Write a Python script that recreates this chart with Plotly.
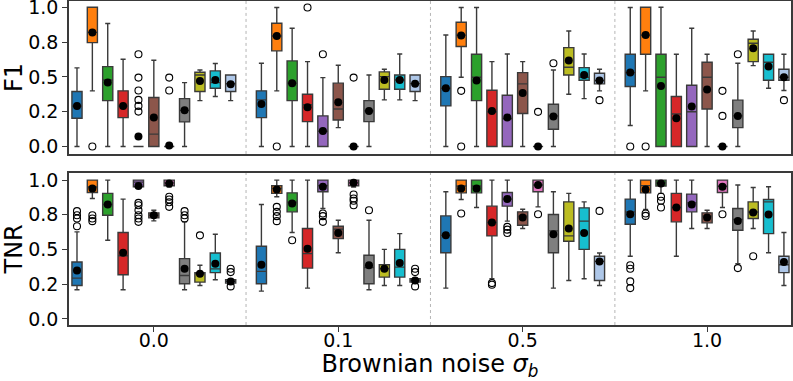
import plotly.graph_objects as go

# ---- categories
noise_levels = ["0.0", "0.1", "0.5", "1.0"]
box_colors = ["#1f77b4", "#ff7f0e", "#2ca02c", "#d62728", "#9467bd", "#8c564b",
              "#e377c2", "#7f7f7f", "#bcbd22", "#17becf", "#aec7e8"]

# ---- F1 stats, one row per noise level, one value per method
f1_q1 = [
    [0.203, 0.746, 0.330, 0.208, 0.0, 0.0, 0.0, 0.177, 0.395, 0.419, 0.395],
    [0.208, 0.687, 0.330, 0.179, 0.0, 0.191, 0.0, 0.179, 0.411, 0.411, 0.395],
    [0.292, 0.718, 0.330, 0.0, 0.0, 0.237, 0.0, 0.124, 0.514, 0.476, 0.450],
    [0.431, 0.663, 0.0, 0.0, 0.0, 0.270, 0.0, 0.136, 0.610, 0.476, 0.476],
]
f1_med = [
    [0.290, 0.820, 0.478, 0.290, 0.0, 0.089, 0.0, 0.260, 0.514, 0.459, 0.452],
    [0.335, 0.794, 0.455, 0.300, 0.110, 0.270, 0.0, 0.256, 0.502, 0.478, 0.452],
    [0.419, 0.800, 0.498, 0.250, 0.200, 0.450, 0.0, 0.220, 0.569, 0.498, 0.474],
    [0.531, 0.800, 0.498, 0.234, 0.250, 0.498, 0.0, 0.220, 0.742, 0.605, 0.498],
]
f1_q3 = [
    [0.395, 1.0, 0.574, 0.400, 0.0, 0.352, 0.0, 0.344, 0.533, 0.543, 0.514],
    [0.400, 0.885, 0.615, 0.376, 0.220, 0.455, 0.0, 0.330, 0.536, 0.514, 0.514],
    [0.502, 0.892, 0.663, 0.404, 0.368, 0.531, 0.0, 0.304, 0.710, 0.567, 0.526],
    [0.663, 1.0, 0.663, 0.359, 0.440, 0.605, 0.0, 0.333, 0.770, 0.663, 0.555],
]
f1_lo = [
    [0.0, 0.400, 0.0, 0.0, 0.0, 0.0, 0.0, 0.0, 0.330, 0.359, 0.330],
    [0.0, 0.400, 0.0, 0.0, 0.0, 0.136, 0.0, 0.0, 0.335, 0.335, 0.330],
    [0.0, 0.498, 0.0, 0.0, 0.0, 0.0, 0.0, 0.0, 0.376, 0.344, 0.400],
    [0.151, 0.400, 0.0, 0.0, 0.0, 0.0, 0.0, 0.0, 0.581, 0.419, 0.402],
]
f1_hi = [
    [0.565, 1.0, 0.883, 0.627, 0.0, 0.620, 0.0, 0.459, 0.550, 0.596, 0.514],
    [0.598, 0.998, 0.849, 0.610, 0.495, 0.584, 0.0, 0.514, 0.555, 0.665, 0.514],
    [0.801, 0.998, 0.998, 0.610, 0.665, 0.610, 0.0, 0.550, 0.830, 0.665, 0.555],
    [0.998, 1.0, 1.0, 0.663, 0.849, 0.663, 0.0, 0.598, 0.830, 0.663, 0.663],
]
f1_mean = [
    [0.292, 0.818, 0.459, 0.292, 0.072, 0.208, 0.007, 0.260, 0.471, 0.478, 0.447],
    [0.306, 0.794, 0.455, 0.282, 0.112, 0.318, 0.0, 0.256, 0.478, 0.478, 0.450],
    [0.419, 0.797, 0.474, 0.256, 0.208, 0.385, 0.0, 0.215, 0.617, 0.514, 0.474],
    [0.531, 0.801, 0.435, 0.203, 0.287, 0.409, 0.0, 0.220, 0.706, 0.574, 0.498],
]
# (noise level, method, outlier values)
f1_outliers = [
    (0, 1, [0.0]), (0, 4, [0.663, 0.495, 0.402, 0.335, 0.292, 0.251]), (0, 6, [0.495, 0.402]),
    (1, 1, [0.0]), (1, 3, [0.998]), (1, 4, [0.663]), (1, 6, [0.495]),
    (2, 1, [0.400, 0.0]), (2, 6, [0.249]), (2, 7, [0.598]), (2, 10, [0.333]),
    (3, 0, [0.0]), (3, 1, [0.0]), (3, 6, [0.400, 0.220]), (3, 7, [0.663]), (3, 10, [0.333]),
]

# ---- TNR stats
tnr_q1 = [
    [0.241, 0.911, 0.747, 0.318, 0.952, 0.728, 0.959, 0.253, 0.265, 0.333, 0.258],
    [0.253, 0.904, 0.771, 0.366, 0.916, 0.578, 0.959, 0.253, 0.301, 0.301, 0.265],
    [0.477, 0.908, 0.908, 0.598, 0.812, 0.675, 0.916, 0.477, 0.559, 0.501, 0.277],
    [0.682, 0.908, 0.957, 0.699, 0.771, 0.692, 0.911, 0.639, 0.723, 0.614, 0.333],
]
tnr_med = [
    [0.294, 0.950, 0.824, 0.455, 0.985, 0.747, 0.980, 0.313, 0.325, 0.360, 0.270],
    [0.342, 0.940, 0.840, 0.470, 0.960, 0.646, 0.980, 0.370, 0.361, 0.373, 0.277],
    [0.602, 0.957, 0.957, 0.694, 0.863, 0.740, 0.964, 0.634, 0.598, 0.704, 0.414],
    [0.771, 0.960, 0.980, 0.802, 0.836, 0.740, 0.955, 0.716, 0.770, 0.843, 0.390],
]
tnr_q3 = [
    [0.410, 1.0, 0.904, 0.622, 1.0, 0.764, 1.0, 0.434, 0.333, 0.475, 0.282],
    [0.523, 0.959, 0.908, 0.651, 1.0, 0.667, 1.0, 0.458, 0.390, 0.501, 0.289],
    [0.742, 1.0, 1.0, 0.812, 0.911, 0.771, 1.0, 0.752, 0.843, 0.800, 0.451],
    [0.863, 1.0, 1.0, 0.904, 0.899, 0.764, 1.0, 0.795, 0.843, 0.860, 0.451],
]
tnr_lo = [
    [0.210, 0.867, 0.566, 0.210, 0.950, 0.706, 0.950, 0.210, 0.241, 0.282, 0.250],
    [0.200, 0.880, 0.622, 0.222, 0.795, 0.477, 0.950, 0.210, 0.241, 0.241, 0.260],
    [0.222, 0.860, 0.802, 0.289, 0.704, 0.651, 0.807, 0.222, 0.277, 0.289, 0.241],
    [0.451, 0.788, 0.904, 0.451, 0.651, 0.651, 0.802, 0.398, 0.651, 0.477, 0.241],
]
tnr_hi = [
    [0.627, 1.0, 1.0, 0.863, 1.0, 0.783, 1.0, 0.699, 0.386, 0.610, 0.290],
    [0.824, 1.0, 1.0, 1.0, 1.0, 0.711, 1.0, 0.711, 0.501, 0.614, 0.295],
    [0.916, 1.0, 1.0, 1.0, 1.0, 0.790, 1.0, 0.916, 0.904, 0.843, 0.475],
    [1.0, 1.0, 1.0, 1.0, 1.0, 0.783, 1.0, 0.964, 0.947, 0.952, 0.622],
]
tnr_mean = [
    [0.349, 0.940, 0.824, 0.477, 0.957, 0.747, 0.976, 0.361, 0.325, 0.398, 0.270],
    [0.390, 0.933, 0.831, 0.506, 0.952, 0.619, 0.981, 0.386, 0.361, 0.402, 0.277],
    [0.602, 0.940, 0.940, 0.694, 0.863, 0.730, 0.964, 0.610, 0.651, 0.619, 0.414],
    [0.754, 0.933, 0.976, 0.802, 0.824, 0.730, 0.952, 0.706, 0.766, 0.752, 0.410],
]
tnr_outliers = [
    (0, 0, [0.776, 0.747, 0.723, 0.667]), (0, 1, [0.747, 0.723, 0.704]),
    (0, 4, [0.836, 0.819, 0.783, 0.747, 0.723, 0.699]), (0, 6, [0.880, 0.860, 0.840, 0.807]),
    (0, 7, [0.776, 0.747, 0.723]), (0, 8, [0.602]), (0, 10, [0.361, 0.337, 0.234]),
    (1, 1, [0.807, 0.771, 0.740, 0.704]), (1, 2, [0.566]), (1, 4, [0.759, 0.740, 0.699]),
    (1, 6, [0.896, 0.867, 0.851, 0.819]), (1, 7, [0.783]), (1, 10, [0.361, 0.337, 0.234]),
    (2, 1, [0.759]), (2, 3, [0.258, 0.246]), (2, 4, [0.663, 0.643, 0.619]),
    (2, 6, [0.754]), (2, 10, [0.778]),
    (3, 0, [0.386, 0.361, 0.270, 0.222]), (3, 1, [0.759, 0.742]), (3, 2, [0.880, 0.851, 0.802]),
    (3, 6, [0.754]), (3, 7, [0.366]), (3, 8, [0.451]),
]

FONT = "DejaVu Sans"
EDGE = "#3a3a3a"
n_meth = len(box_colors)


def pos(g, m):
    return g + (m - (n_meth - 1) / 2) / 12.0


def panel(q1, med, q3, lo, hi, mean, outliers, xa, ya):
    traces = []
    for m, c in enumerate(box_colors):
        traces.append(go.Box(
            x=[pos(g, m) for g in range(len(noise_levels))],
            q1=[r[m] for r in q1], median=[r[m] for r in med], q3=[r[m] for r in q3],
            lowerfence=[r[m] for r in lo], upperfence=[r[m] for r in hi],
            width=0.055, whiskerwidth=0.5, fillcolor=c,
            line=dict(color=EDGE, width=1.4), boxpoints=False,
            xaxis=xa, yaxis=ya, showlegend=False, hoverinfo="skip",
        ))
    ox, oy = [], []
    for g, m, vals in outliers:
        ox += [pos(g, m)] * len(vals)
        oy += vals
    traces.append(go.Scatter(
        x=ox, y=oy, mode="markers", xaxis=xa, yaxis=ya, showlegend=False,
        marker=dict(symbol="circle-open", size=7, color="black", line=dict(width=1.1)),
    ))
    mx, my = [], []
    for g in range(len(noise_levels)):
        for m in range(n_meth):
            mx.append(pos(g, m))
            my.append(mean[g][m])
    traces.append(go.Scatter(
        x=mx, y=my, mode="markers", xaxis=xa, yaxis=ya, showlegend=False,
        marker=dict(symbol="circle", size=8, color="black"),
    ))
    return traces


data = panel(f1_q1, f1_med, f1_q3, f1_lo, f1_hi, f1_mean, f1_outliers, "x", "y") + \
    panel(tnr_q1, tnr_med, tnr_q3, tnr_lo, tnr_hi, tnr_mean, tnr_outliers, "x2", "y2")

xrange = [-0.46, 3.455]
ytick = dict(tickvals=[0, 0.25, 0.5, 0.75, 1.0], ticktext=["0.0", "0.2", "0.5", "0.8", "1.0"],
             ticks="outside", ticklen=5, tickcolor=EDGE, tickfont=dict(size=19, color="black"),
             ticklabeloverflow="allow", automargin=False,
             showgrid=False, zeroline=False, showline=True, mirror=True,
             linecolor=EDGE, linewidth=1.5)
xcommon = dict(range=xrange, showgrid=False, zeroline=False, showline=True, mirror=True,
               linecolor=EDGE, linewidth=1.5, automargin=False)

shapes = []
for xr, yr in [("x", "y domain"), ("x2", "y2 domain")]:
    for b in [0.5, 1.5, 2.5]:
        shapes.append(dict(type="line", xref=xr, yref=yr, x0=b, x1=b, y0=0, y1=1,
                           line=dict(color="#b5b5b5", width=1, dash="dot"), layer="below"))

layout = dict(
    width=793, height=381,
    margin=dict(l=69, r=2, t=1, b=56),
    paper_bgcolor="white", plot_bgcolor="white",
    font=dict(family=FONT, color="black"),
    boxmode="overlay",
    xaxis=dict(xcommon, anchor="y", showticklabels=False, ticks=""),
    yaxis=dict(ytick, domain=[0.528, 1.0], range=[-0.053, 1.045], anchor="x",
               title=dict(text="F1", font=dict(size=24), standoff=15)),
    xaxis2=dict(xcommon, anchor="y2", tickvals=[0, 1, 2, 3], ticktext=noise_levels,
                ticks="outside", ticklen=5, tickcolor=EDGE, tickfont=dict(size=19, color="black"),
                ticklabeloverflow="allow", ticklabelstandoff=-8,
                title=dict(text="Brownian noise <i>σ</i><sub><i>b</i></sub>", font=dict(size=24), standoff=18)),
    yaxis2=dict(ytick, domain=[0.0, 0.470], range=[-0.044, 1.053], anchor="x2",
                title=dict(text="TNR", font=dict(size=24), standoff=15)),
    shapes=shapes,
)

fig = go.Figure(data=data, layout=layout)
# the page body keeps a default 8px margin; drop it so the figure sits at the corner
fig.write_html("out.html", config={"displayModeBar": False},
               post_script="document.body.style.margin='0';")
